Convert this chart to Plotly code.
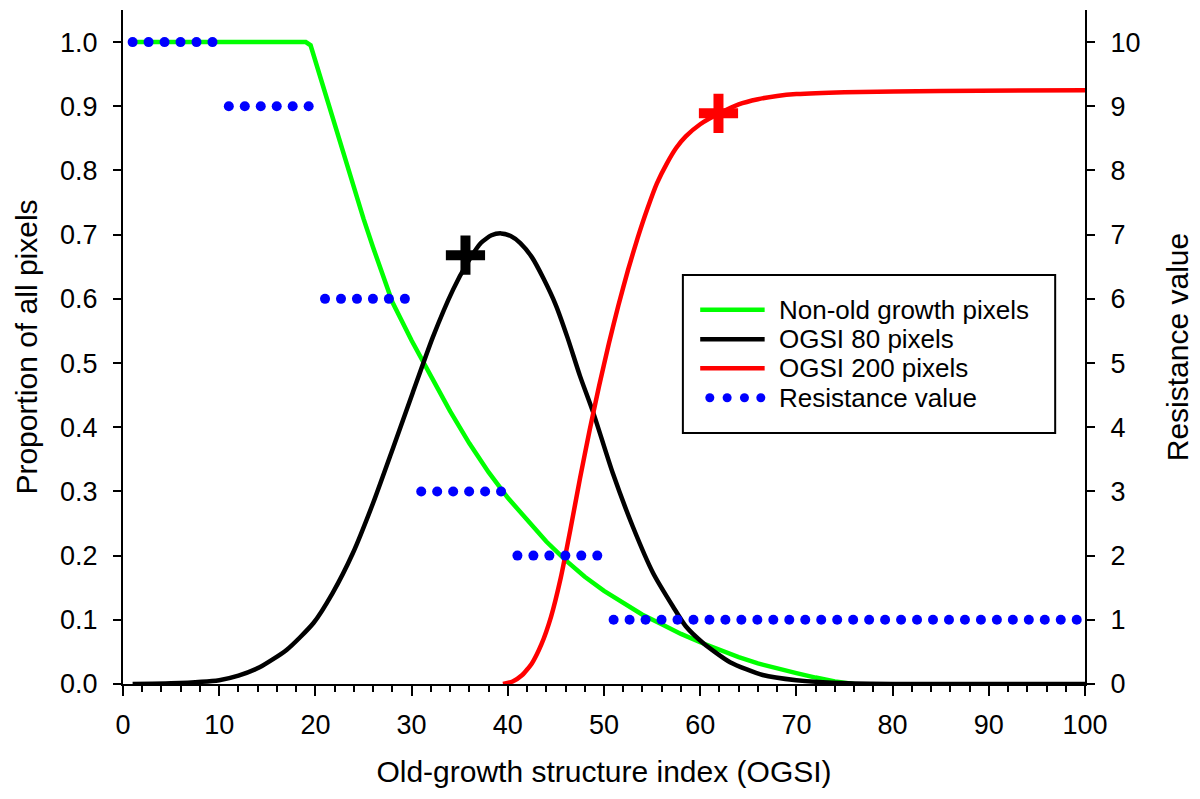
import numpy as np
import plotly.graph_objects as go

# ---- data ----
green_x = [1, 5, 10, 15, 19, 19.5, 20, 21, 22, 23, 24, 25, 26, 27, 28, 29, 30, 32, 34, 36, 38,
           40, 42, 44, 46, 48, 50, 52, 54, 56, 58, 60, 62, 64, 66, 68, 70, 72, 74, 76]
green_y = [1, 1, 1, 1, 1, 0.995, 0.97, 0.92, 0.87, 0.82, 0.775, 0.725, 0.68, 0.635, 0.595,
           0.565, 0.535, 0.48, 0.425, 0.375, 0.33, 0.29, 0.255, 0.222, 0.193, 0.167, 0.145,
           0.126, 0.108, 0.093, 0.078, 0.065, 0.053, 0.042, 0.032, 0.024, 0.017, 0.01, 0.004, 0]

black_x = [1, 5, 10, 12, 14.2, 17, 19.8, 21.8, 23.9, 26, 28.1, 30.1, 32.2, 34.3, 35.8, 37.2,
           38.3, 39.3, 40.3, 41.3, 42.5, 43.7, 45, 46.2, 47.5, 48.9, 50.9, 53, 55.1, 57.2, 58.5,
           60.3, 63.1, 66.5, 70, 75.3, 80, 100]
black_y = [0, 0.001, 0.006, 0.013, 0.026, 0.053, 0.095, 0.142, 0.204, 0.282, 0.369, 0.453,
           0.54, 0.614, 0.656, 0.687, 0.699, 0.702, 0.698, 0.687, 0.665, 0.632, 0.59, 0.54,
           0.48, 0.422, 0.329, 0.245, 0.173, 0.12, 0.09, 0.064, 0.034, 0.014, 0.006, 0.001, 0, 0]

red_x = [39.5, 40.5, 41.5, 42.5, 43.5, 44.5, 45.5, 46.5, 47.5, 48.5, 49.5, 50.5, 51.5, 52.5,
         53.5, 54.5, 55.5, 56.5, 57.5, 58.5, 60, 62, 64, 66, 68, 70, 75, 85, 100]
red_y = [0, 0.004, 0.014, 0.032, 0.062, 0.105, 0.165, 0.24, 0.32, 0.395, 0.465, 0.53, 0.59,
         0.645, 0.695, 0.74, 0.78, 0.81, 0.835, 0.853, 0.872, 0.889, 0.903, 0.911, 0.916,
         0.919, 0.922, 0.924, 0.925]

# resistance value: step segments (start OGSI, end OGSI, value)
res_start = [1, 11, 21, 31, 41, 51]
res_end = [10, 20, 30, 40, 50, 100]
res_value = [10, 9, 6, 3, 2, 1]

# highlighted points (crosses)
cross_x = [35.6, 61.9]
cross_y = [0.668, 0.889]
cross_color = ["black", "red"]

legend_labels = ["Non-old growth pixels", "OGSI 80 pixels", "OGSI 200 pixels", "Resistance value"]

# ---- figure ----
FONT = "Liberation Sans, Arial, sans-serif"
DOT_STEP = 1.66  # spacing of the dotted-line pattern
GREEN = "#00ff00"

fig = go.Figure()
fig.add_trace(go.Scatter(x=green_x, y=green_y, mode="lines",
                         line=dict(color=GREEN, width=4.5), showlegend=False))
fig.add_trace(go.Scatter(x=black_x, y=black_y, mode="lines",
                         line=dict(color="black", width=4.5, shape="spline", smoothing=0.6),
                         showlegend=False))
fig.add_trace(go.Scatter(x=red_x, y=red_y, mode="lines",
                         line=dict(color="red", width=4.5, shape="spline", smoothing=0.5),
                         showlegend=False))

dx, dy = [], []
for s, e, v in zip(res_start, res_end, res_value):
    pts = np.arange(s, e, DOT_STEP)
    dx.extend(pts.tolist())
    dy.extend([v] * len(pts))
fig.add_trace(go.Scatter(x=dx, y=dy, mode="markers", yaxis="y2",
                         marker=dict(color="blue", size=10, line=dict(width=0)),
                         showlegend=False))

fig.add_trace(go.Scatter(x=cross_x, y=cross_y, mode="markers",
                         marker=dict(symbol="cross-thin", size=28,
                                     line=dict(color=cross_color, width=10)),
                         showlegend=False))

# ---- manual legend (SigmaPlot style) ----
shapes = [dict(type="rect", xref="x", yref="y", x0=58.2, x1=96.9, y0=0.391, y1=0.637,
               line=dict(color="black", width=2), fillcolor="white", layer="below")]
row_y = [0.583, 0.537, 0.492, 0.446]
line_cols = [GREEN, "black", "red"]
for yy, c in zip(row_y[:3], line_cols):
    shapes.append(dict(type="line", xref="x", yref="y", x0=60.0, x1=66.7, y0=yy, y1=yy,
                       line=dict(color=c, width=4.5)))
annotations = []
for yy, t in zip(row_y, legend_labels):
    annotations.append(dict(xref="x", yref="y", x=68.0, y=yy, text=t, showarrow=False,
                            xanchor="left", yanchor="middle",
                            font=dict(family=FONT, size=26, color="black")))
fig.add_trace(go.Scatter(x=[61.0, 62.8, 64.6, 66.3], y=[row_y[3]] * 4, mode="markers",
                         marker=dict(color="blue", size=9), showlegend=False,
                         hoverinfo="skip"))

axis_common = dict(showgrid=False, zeroline=False, showline=True, linecolor="black",
                   linewidth=2, ticks="outside", tickcolor="black", tickwidth=2,
                   tickfont=dict(family=FONT, size=27, color="black"))

fig.update_layout(
    width=1200, height=799,
    margin=dict(l=115, r=123, t=2, b=123),
    paper_bgcolor="white", plot_bgcolor="white",
    font=dict(family=FONT, color="black"),
    shapes=shapes, annotations=annotations,
    xaxis=dict(range=[0, 100], tickvals=list(range(0, 101, 10)), ticklen=10,
               ticklabelstandoff=6,
               minor=dict(ticks="outside", dtick=2, ticklen=6, tickwidth=2, tickcolor="black"),
               title=dict(text="Old-growth structure index (OGSI)", standoff=22,
                          font=dict(family=FONT, size=30, color="black")),
               **axis_common),
    yaxis=dict(range=[0, 1.05], tickvals=[i / 10 for i in range(11)], tickformat=".1f",
               ticklen=8, ticklabelstandoff=10,
               title=dict(text="Proportion of all pixels", standoff=14,
                          font=dict(family=FONT, size=30, color="black")),
               **axis_common),
    yaxis2=dict(range=[0, 10.5], tickvals=list(range(11)), overlaying="y", side="right",
                ticklen=8, ticklabelstandoff=10,
                title=dict(text="Resistance value", standoff=28,
                           font=dict(family=FONT, size=30, color="black")),
                **axis_common),
)

fig.write_html("out.html")
